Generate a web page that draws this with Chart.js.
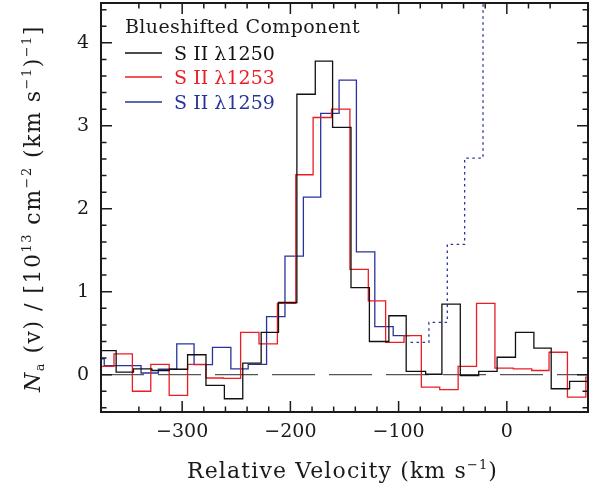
<!DOCTYPE html>
<html><head><meta charset="utf-8">
<script src="https://cdn.jsdelivr.net/npm/chart.js@4"></script>
<style>html,body{margin:0;padding:0;background:#fff}</style>
</head><body>
<canvas id="c" width="603" height="489" style="display:block"></canvas>
<script>
// ---- data ----
const legendTitle = 'Blueshifted Component';
const seriesNames = ['S II λ1250', 'S II λ1253', 'S II λ1259'];
const xTickLabels = [-300, -200, -100, 0];
const yTickLabels = [0, 1, 2, 3, 4];
const xRange = [-375, 75];
const yRange = [-0.45, 4.48];
const zeroLevel = 0;

// bin edges (km/s) and N_a values (1e13 cm^-2 (km/s)^-1)
const edges1250 = [-378,-361,-345,-328,-312,-295,-278,-261,-244,-227,-211,-194,-177,-161,-144,-127,-109,-93,-75,-60,-43,-26,-9,8,25,41,58,75];
const values1250 = [0.29,0.03,0.07,0.05,0.065,0.24,-0.13,-0.29,0.14,0.51,0.87,3.38,3.78,2.98,1.05,0.40,0.71,0.04,0.005,0.85,-0.01,0.04,0.21,0.51,0.32,-0.17,-0.08];

const edges1253 = [-379,-363,-346,-329,-312,-295,-278,-262,-246,-229,-212,-195,-179,-162,-145,-128,-112,-95,-79,-62,-45,-28,-11,6,23,39,56,73,90];
const values1253 = [0.10,0.25,-0.20,0.125,-0.25,0.125,-0.04,-0.045,0.51,0.37,0.86,2.41,3.10,3.20,1.27,0.89,0.39,0.47,-0.15,-0.18,0.10,0.86,0.08,0.07,0.05,0.27,-0.27,-0.03];

const edges1259 = [-388,-372,-355,-338,-322,-305,-289,-272,-255,-239,-222,-205,-188,-172,-155,-139,-122,-105,-89];
const values1259 = [0.19,0.11,0.11,0.02,0.065,0.37,0.12,0.33,0.07,0.125,0.70,1.43,2.14,3.15,3.55,1.48,0.58,0.47];

// blended part of the λ1259 profile (dotted)
const edges1259Blend = [-89,-72,-55,-39,-22,-5];
const values1259Blend = [0.39,0.63,1.57,2.61,5.5];

const colors = ['#111111', '#ec1c24', '#28349a'];
const FONT = '"DejaVu Serif", serif';

function toSteps(edges, values) {
  const pts = values.map((v, i) => ({x: edges[i], y: v}));
  pts.push({x: edges[values.length], y: values[values.length - 1]});
  return pts;
}
const fmtX = v => (v < 0 ? '\u2212' + Math.abs(v) : String(v));
const near = (a, b) => Math.abs(a - b) < 1e-6;

function drawRich(ctx, segs, x, y, targetWidth, align) {
  ctx.save();
  ctx.letterSpacing = '0px';
  let w0 = 0, n = 0;
  for (const s of segs) {
    ctx.font = (s.style || '') + ' ' + s.size + 'px ' + FONT;
    w0 += ctx.measureText(s.t).width; n += [...s.t].length;
  }
  const sp = targetWidth ? (targetWidth - w0) / n : 0;
  ctx.letterSpacing = sp.toFixed(2) + 'px';
  let total = 0;
  for (const s of segs) {
    ctx.font = (s.style || '') + ' ' + s.size + 'px ' + FONT;
    s.w = ctx.measureText(s.t).width; total += s.w;
  }
  let cx = align === 'center' ? x - total / 2 : x;
  ctx.textBaseline = 'alphabetic';
  ctx.textAlign = 'left';
  for (const s of segs) {
    ctx.font = (s.style || '') + ' ' + s.size + 'px ' + FONT;
    ctx.fillStyle = s.color || ctx.fillStyle;
    ctx.fillText(s.t, cx, y + (s.dy || 0));
    cx += s.w;
  }
  ctx.restore();
}

const framePlugin = {
  id: 'frame',
  afterDatasetsDraw(chart) {
    const {ctx, chartArea: a, scales} = chart;
    ctx.save();
    ctx.strokeStyle = '#1a1a1a';
    ctx.lineWidth = 1.5;
    for (const t of scales.x.ticks) {
      const p = scales.x.getPixelForValue(t.value);
      const major = near(t.value / 100, Math.round(t.value / 100));
      const len = major ? 11 : 5.5;
      ctx.beginPath();
      ctx.moveTo(p, a.bottom); ctx.lineTo(p, a.bottom - len);
      ctx.moveTo(p, a.top); ctx.lineTo(p, a.top + len);
      ctx.stroke();
    }
    for (const t of scales.y.ticks) {
      const p = scales.y.getPixelForValue(t.value);
      const major = near(t.value, Math.round(t.value));
      const len = major ? 11 : 5.5;
      ctx.beginPath();
      ctx.moveTo(a.left, p); ctx.lineTo(a.left + len, p);
      ctx.moveTo(a.right, p); ctx.lineTo(a.right - len, p);
      ctx.stroke();
    }
    ctx.lineWidth = 2;
    ctx.strokeRect(a.left, a.top, a.right - a.left, a.bottom - a.top);
    ctx.restore();
  },
  afterDraw(chart) {
    const ctx = chart.ctx;
    ctx.save();
    ctx.fillStyle = '#1a1a1a';
    // legend
    drawRich(ctx, [{t: legendTitle, size: 19}], 125, 33, 235, 'left');
    const rowY = [53, 77, 102];
    seriesNames.forEach((name, i) => {
      ctx.save();
      ctx.strokeStyle = colors[i]; ctx.lineWidth = 1.3;
      ctx.beginPath(); ctx.moveTo(125, rowY[i]); ctx.lineTo(162, rowY[i]); ctx.stroke();
      ctx.restore();
      drawRich(ctx, [{t: name, size: 19, color: colors[i]}], 174, rowY[i] + 7, 101, 'left');
    });
    // x title
    ctx.fillStyle = '#1a1a1a';
    drawRich(ctx, [
      {t: 'Relative Velocity (km s', size: 22},
      {t: '\u22121', size: 13, dy: -9},
      {t: ')', size: 22}
    ], 342.5, 478, 311, 'center');
    // y title (rotated)
    ctx.save();
    ctx.translate(40, 208.5);
    ctx.rotate(-Math.PI / 2);
    drawRich(ctx, [
      {t: 'N', size: 22, style: 'italic'},
      {t: 'a', size: 13, dy: 4},
      {t: ' (v) / [10', size: 22},
      {t: '13', size: 13, dy: -9},
      {t: ' cm', size: 22},
      {t: '\u22122', size: 13, dy: -9},
      {t: ' (km s', size: 22},
      {t: '\u22121', size: 13, dy: -9},
      {t: ')', size: 22},
      {t: '\u22121', size: 13, dy: -9},
      {t: ']', size: 22}
    ], 0, 0, 367, 'center');
    ctx.restore();
    ctx.restore();
  }
};

const lineBase = {pointRadius: 0, borderWidth: 1.3, stepped: true, fill: false, tension: 0};

new Chart(document.getElementById('c').getContext('2d'), {
  type: 'line',
  data: {
    datasets: [
      Object.assign({label: seriesNames[0], data: toSteps(edges1250, values1250), borderColor: colors[0]}, lineBase),
      Object.assign({label: seriesNames[1], data: toSteps(edges1253, values1253), borderColor: colors[1]}, lineBase),
      Object.assign({label: seriesNames[2], data: toSteps(edges1259, values1259), borderColor: colors[2]}, lineBase),
      Object.assign({label: seriesNames[2] + ' (blend)', data: toSteps(edges1259Blend, values1259Blend), borderColor: colors[2], borderDash: [2.5, 3.5]}, lineBase),
      {label: 'zero', data: [{x: xRange[0], y: zeroLevel}, {x: xRange[1], y: zeroLevel}], borderColor: '#555555', borderWidth: 1.3, borderDash: [43, 14], pointRadius: 0, stepped: false}
    ]
  },
  options: {
    responsive: false,
    animation: false,
    devicePixelRatio: 1,
    layout: {padding: {top: 3, right: 15, left: 0, bottom: 0}},
    plugins: {legend: {display: false}, tooltip: {enabled: false}},
    scales: {
      x: {
        type: 'linear', min: xRange[0], max: xRange[1],
        grid: {display: false, drawTicks: false}, border: {display: false},
        ticks: {stepSize: 20, autoSkip: false, maxRotation: 0, minRotation: 0, padding: 9,
          font: {family: FONT, size: 19}, color: '#1a1a1a',
          callback: v => (xTickLabels.some(t => near(t, v)) ? fmtX(Math.round(v)) : '')},
        afterFit: s => { s.height = 77; s.paddingLeft = 0; s.paddingRight = 0; }
      },
      y: {
        type: 'linear', min: yRange[0], max: yRange[1],
        grid: {display: false, drawTicks: false}, border: {display: false},
        ticks: {stepSize: 0.2, includeBounds: false, autoSkip: false, padding: 12,
          font: {family: FONT, size: 19}, color: '#1a1a1a',
          callback: v => (yTickLabels.some(t => near(t, v)) ? String(Math.round(v)) : '')},
        afterFit: s => { s.width = 101; s.paddingTop = 0; s.paddingBottom = 0; }
      }
    }
  },
  plugins: [framePlugin]
});
</script>
</body></html>
